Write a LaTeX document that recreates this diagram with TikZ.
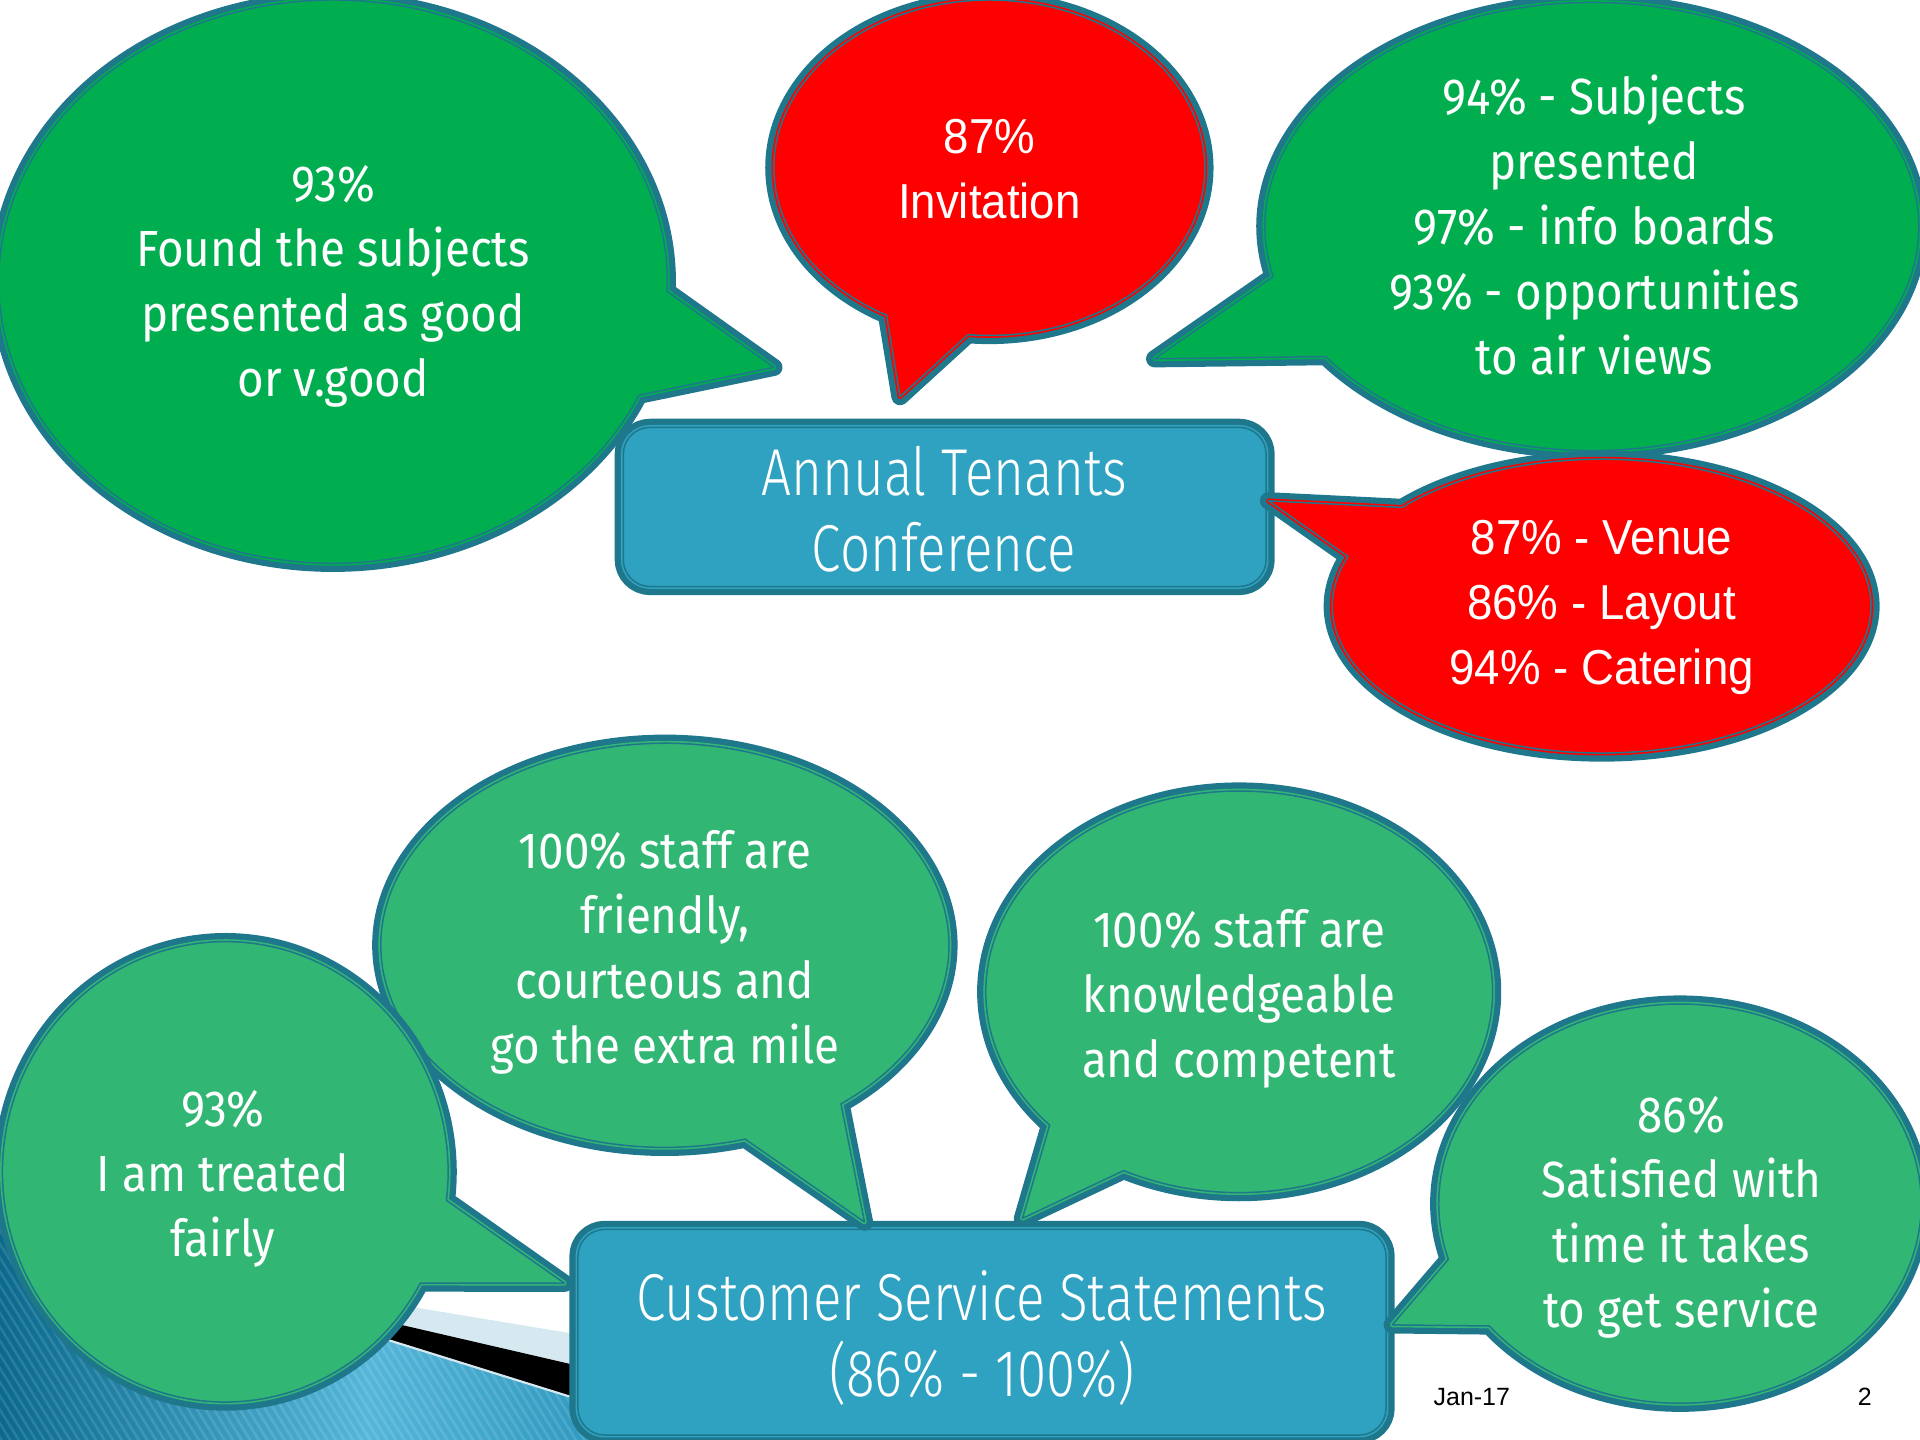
\documentclass[tikz,border=0pt]{standalone}
\usepackage{fontspec}
\setmainfont{Fira Sans}[FakeStretch=0.9]
\newfontfamily\narrowfont{Liberation Sans}[FakeStretch=0.93]
\newfontfamily\titlefont{Fira Sans Light}[FakeStretch=0.8]
\newfontfamily\footfont{Liberation Sans}
\usetikzlibrary{calc}

\definecolor{rim}{RGB}{31,119,140}
\definecolor{topgreen}{RGB}{0,174,80}
\definecolor{lowgreen}{RGB}{50,182,116}
\definecolor{callred}{RGB}{255,0,0}
\definecolor{boxblue}{RGB}{46,162,192}
\definecolor{paleband}{RGB}{214,233,240}
\definecolor{deepsea}{RGB}{10,105,140}
\definecolor{lightsea}{RGB}{85,182,217}
\definecolor{midsea}{RGB}{25,135,175}

% thick rim, thin line of the fill colour, thin rim line, then the fill
\newcommand{\rimfill}[2]{%
  \draw[rim, line width=4pt, line join=round] #2;
  \draw[#1, line width=1.1pt, line join=round] #2;
  \fill[#1] #2;
  \draw[rim, line width=0.35pt, line join=round] #2;
}

\begin{document}
\begin{tikzpicture}[x=0.01cm, y=-0.01cm]
    \tikzstyle{say}=[align=center, text=white, inner sep=0pt, font=\fontsize{11.8}{15.1}\selectfont]
    \tikzstyle{sayred}=[say, font=\narrowfont\fontsize{11.4}{15.1}\selectfont]
    \tikzstyle{title}=[align=center, text=white, inner sep=0pt, font=\titlefont\fontsize{15.4}{17.6}\selectfont]
    \tikzstyle{foot}=[inner sep=0pt, font=\footfont\fontsize{5.8}{7}\selectfont]

    \useasboundingbox (0,0) rectangle (1568,1176);
    \clip (0,0) rectangle (1568,1176);

    % slide background, bottom left
    \begin{scope}
        \clip (0,930) .. controls (110,1000) and (190,1052) .. (250,1073) -- (600,1182) -- (600,1190) -- (0,1190) -- cycle;
        \shade[left color=deepsea, right color=midsea, middle color=lightsea] (0,900) rectangle (600,1190);
        \foreach \i in {-240,-233,...,600}
            \draw[white, opacity=0.12, line width=0.6pt] (\i,900) -- ++(180,290);
    \end{scope}
    \fill[paleband] (250,1053) -- (600,1111) -- (600,1145) -- (250,1064) -- cycle;
    \fill[black] (250,1064) -- (600,1145) -- (600,1182) -- (250,1073) -- cycle;
    \draw[paleband, line width=0.5pt] (250,1073.5) -- (600,1182.5);

    % centres and tips of the bubbles
    \coordinate (c-1) at (272,230);  \coordinate (t-1) at (632,300);
    \coordinate (c-2) at (808,137);  \coordinate (t-2) at (735,324);
    \coordinate (c-3) at (1300,185); \coordinate (t-3) at (943,293);
    \coordinate (c-4) at (1308,495); \coordinate (t-4) at (1036,409);
    \coordinate (c-5) at (543,772);  \coordinate (t-5) at (706,998);
    \coordinate (c-6) at (1012,810); \coordinate (t-6) at (835,995);
    \coordinate (c-7) at (184,957);  \coordinate (t-7) at (461,1048);
    \coordinate (c-8) at (1372,983); \coordinate (t-8) at (1137,1082);

    \rimfill{boxblue}{[rounded corners=0.22cm] (509,349) rectangle (1034,479)}
    \rimfill{boxblue}{[rounded corners=0.22cm] (472,1004) rectangle (1132,1172)}

    \rimfill{topgreen}{($(c-1)+(23.8:273 and 230)$) arc[start angle=23.8, end angle=362, x radius=273, y radius=230] -- (t-1) -- cycle}
    \rimfill{callred}{($(c-2)+(118.5:176 and 137)$) arc[start angle=118.5, end angle=455.7, x radius=176, y radius=137] -- (t-2) -- cycle}
    \rimfill{topgreen}{($(c-3)+(167.1:267 and 183)$) arc[start angle=167.1, end angle=504.5, x radius=267, y radius=183] -- (t-3) -- cycle}
    \rimfill{callred}{($(c-4)+(222.2:220 and 120)$) arc[start angle=222.2, end angle=559.7, x radius=220, y radius=120] -- (t-4) -- cycle}
    \rimfill{lowgreen}{($(c-5)+(73.6:232 and 165)$) arc[start angle=73.6, end angle=411.7, x radius=232, y radius=165] -- (t-5) -- cycle}
    \rimfill{lowgreen}{($(c-6)+(138.4:207 and 164)$) arc[start angle=138.4, end angle=477.1, x radius=207, y radius=164] -- (t-6) -- cycle}
    \rimfill{lowgreen}{($(c-7)+(28.9:182 and 188)$) arc[start angle=28.9, end angle=367.1, x radius=182, y radius=188] -- (t-7) -- cycle}
    \rimfill{lowgreen}{($(c-8)+(163.8:197 and 163)$) arc[start angle=163.8, end angle=502.2, x radius=197, y radius=163] -- (t-8) -- cycle}

    \node[say] (S-1) at (272,234) {93\%\\Found the subjects\\presented as good\\or v.good};
    \node[sayred] (S-2) at (808,138) {87\%\\Invitation};
    \node[say] (S-3) at (1302,184) {94\% - Subjects\\presented\\97\% - info boards\\93\% - opportunities\\to air views};
    \node[title] (T-1) at (771,416) {Annual Tenants\\Conference};
    \node[sayred] (S-4) at (1308,496) {87\% - Venue\\86\% - Layout\\94\% - Catering};
    \node[say] (S-5) at (543,778) {100\% staff are\\friendly,\\courteous and\\go the extra mile};
    \node[say] (S-6) at (1012,816) {100\% staff are\\knowledgeable\\and competent};
    \node[say] (S-7) at (182,963) {93\%\\I am treated\\fairly};
    \node[say] (S-8) at (1373,994) {86\%\\Satisfied with\\time it takes\\to get service};
    \node[title] (T-2) at (802,1093) {Customer Service Statements\\(86\% - 100\%)};

    \node[foot] (D) at (1202,1141) {Jan-17};
    \node[foot] (P) at (1523,1141) {2};
\end{tikzpicture}
\end{document}
